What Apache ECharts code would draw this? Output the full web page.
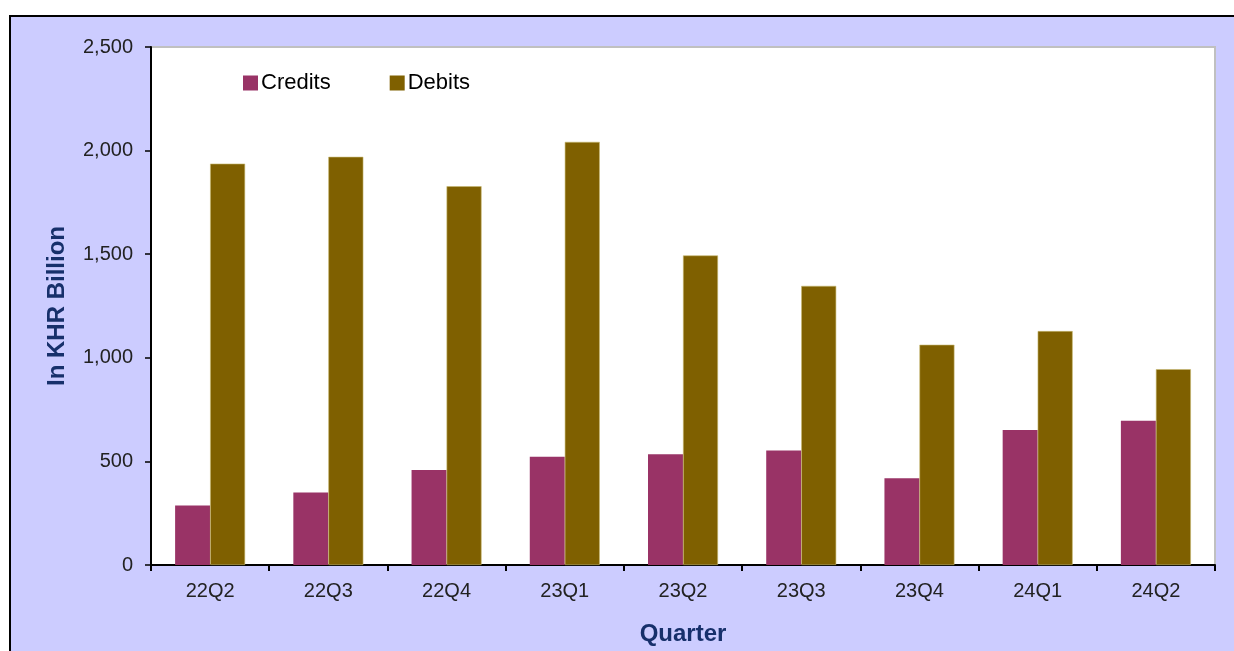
<!DOCTYPE html>
<html>
<head>
<meta charset="utf-8">
<script src="https://cdn.jsdelivr.net/npm/echarts@6/dist/echarts.min.js"></script>
<style>
html,body{margin:0;padding:0;background:#fff;}
#chart{width:1234px;height:651px;}
</style>
</head>
<body>
<div id="chart"></div>
<script>
const categories = ['22Q2','22Q3','22Q4','23Q1','23Q2','23Q3','23Q4','24Q1','24Q2'];
const credits = [287, 350, 458, 522, 534, 553, 419, 651, 696];
const debits = [1937, 1970, 1828, 2042, 1494, 1347, 1063, 1129, 945];
const yTicks = { min: 0, max: 2500, interval: 500 };

const chart = echarts.init(document.getElementById('chart'));
const FONT = '"Liberation Sans", Arial, sans-serif';
chart.setOption({
  animation: false,
  graphic: [{
    type: 'rect', z: -10,
    shape: { x: 10, y: 16, width: 1240, height: 660 },
    style: { fill: '#CCCCFF', stroke: '#000', lineWidth: 2 }
  }],
  grid: {
    left: 151, right: 19, top: 47, bottom: 82,
    show: true, backgroundColor: '#ffffff', borderColor: '#C0C0C0', borderWidth: 2
  },
  legend: {
    left: 238, top: 67,
    itemWidth: 15, itemHeight: 15, itemGap: 59,
    icon: 'rect',
    itemStyle: { borderWidth: 0 },
    textStyle: { fontFamily: FONT, fontSize: 22, color: '#000', padding: [0, 0, 0, -2] },
    data: ['Credits', 'Debits']
  },
  xAxis: {
    type: 'category', data: categories,
    name: 'Quarter', nameLocation: 'middle', nameGap: 57,
    nameTextStyle: { fontFamily: FONT, fontSize: 24, fontWeight: 'bold', color: '#17306B' },
    axisLine: { lineStyle: { color: '#000', width: 2 } },
    axisTick: { show: true, length: 6, lineStyle: { color: '#000', width: 2 } },
    axisLabel: { fontFamily: FONT, fontSize: 20, color: '#222', margin: 16 },
    splitLine: { show: false }
  },
  yAxis: {
    type: 'value', min: yTicks.min, max: yTicks.max, interval: yTicks.interval,
    name: 'In KHR Billion', nameLocation: 'middle', nameGap: 82,
    nameTextStyle: { fontFamily: FONT, fontSize: 24, fontWeight: 'bold', color: '#17306B' },
    axisLine: { show: true, lineStyle: { color: '#000', width: 2 } },
    axisTick: { show: true, length: 6, lineStyle: { color: '#000', width: 1.5 } },
    axisLabel: {
      fontFamily: FONT, fontSize: 20, color: '#222', margin: 18,
      formatter: v => v.toLocaleString('en-US')
    },
    splitLine: { show: false }
  },
  series: [
    {
      name: 'Credits', type: 'bar', data: credits,
      barWidth: 35, barGap: '0%',
      itemStyle: { color: '#993366' }
    },
    {
      name: 'Debits', type: 'bar', data: debits,
      barWidth: 35, barGap: '0%',
      itemStyle: { color: '#7F6000', borderColor: '#C8B870', borderWidth: 0.6 }
    }
  ]
});
</script>
</body>
</html>
